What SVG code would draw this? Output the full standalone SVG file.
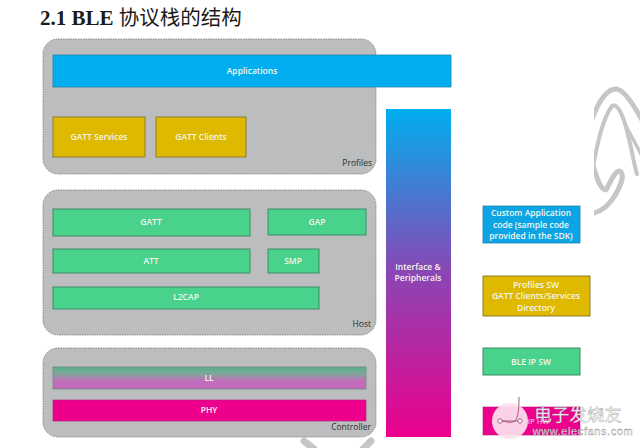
<svg xmlns="http://www.w3.org/2000/svg" width="640" height="448" viewBox="0 0 640 448">
<style>
text{font-family:"Open Sans","Noto Sans",sans-serif;font-size:8.5px;font-weight:600;fill:#f4f6ee;text-anchor:middle}
.panel{fill:#bcbdbf;stroke:#77787a;stroke-width:.8;stroke-dasharray:1.5 1}
.blue{fill:#00aeef;stroke:#1b87ad;stroke-width:.8}
.gold{fill:#dfb800;stroke:#8d7f2e;stroke-width:1}
.green{fill:#48d28c;stroke:#3f8a69;stroke-width:1}
.pink{fill:#ec008c;stroke:#b5197a;stroke-width:.6}
.dark{fill:#2e2e2e;text-anchor:end;font-weight:400}
.wm{fill:none;stroke:#c6c6c6;stroke-linecap:round;stroke-linejoin:round}
</style>
<defs>
<linearGradient id="side" x1="0" y1="0" x2="0" y2="1"><stop offset="0" stop-color="#00aeef"/><stop offset=".5" stop-color="#8a46b4"/><stop offset="1" stop-color="#ec008c"/></linearGradient>
<linearGradient id="ll" x1="0" y1="0" x2="0" y2="1"><stop offset="0" stop-color="#58ae8c"/><stop offset=".3" stop-color="#7ea69a"/><stop offset=".65" stop-color="#c46cbc"/><stop offset="1" stop-color="#c46cbc"/></linearGradient>
<clipPath id="wmclip"><rect x="594" y="80" width="46" height="140"/></clipPath>
</defs>
<rect width="640" height="448" fill="#fff"/>
<g id="watermark">
<g clip-path="url(#wmclip)">
<path class="wm" stroke-width="5" d="M590 125C598 100 608 88 617 89C626 92 634 106 642 120"/>
<path class="wm" stroke-width="4" d="M592 172C598 140 603 118 612 106C618 102 624 118 628 135C632 150 634 165 637 174"/>
<path class="wm" stroke-width="3.5" d="M626 126L642 156"/>
<path class="wm" stroke-width="5" d="M590 214C600 213 610 205 617 192C622 182 624 176 621 172C617 168 612 178 606 190C600 190 596 176 592 162"/>
</g>
<path class="wm" stroke-width="7" d="M304 441L314 449M371 441L363 449"/>
</g>
<text x="40" y="25" style="font-family:'Liberation Serif','Noto Sans CJK SC',serif;font-size:21px;font-weight:700;fill:#1a1a1a;text-anchor:start">2.1 BLE <tspan style="font-family:'Noto Sans CJK SC',sans-serif;font-weight:400;font-size:20.5px">协议栈的结构</tspan></text>
<g id="profiles"><rect class="panel" x="43" y="39" width="333" height="135" rx="15"/><text class="dark" x="372" y="166">Profiles</text></g>
<g id="host"><rect class="panel" x="43" y="190" width="333" height="145" rx="15"/><text class="dark" x="371" y="327">Host</text></g>
<g id="controller"><rect class="panel" x="43" y="348" width="333" height="89" rx="15"/><text class="dark" x="371" y="430">Controller</text></g>
<g id="applications"><rect class="blue" x="53" y="55" width="398" height="32"/><text x="252" y="74">Applications</text></g>
<g id="gatt-services"><rect class="gold" x="53" y="117" width="92" height="40"/><text x="99" y="140">GATT Services</text></g>
<g id="gatt-clients"><rect class="gold" x="156" y="117" width="90" height="40"/><text x="201" y="140">GATT Clients</text></g>
<g id="gatt"><rect class="green" x="53" y="209" width="197" height="27"/><text x="151" y="225">GATT</text></g>
<g id="gap"><rect class="green" x="268" y="209" width="98" height="26"/><text x="317" y="225">GAP</text></g>
<g id="att"><rect class="green" x="53" y="249" width="197" height="24"/><text x="151" y="264">ATT</text></g>
<g id="smp"><rect class="green" x="268" y="249" width="51" height="24"/><text x="293" y="264">SMP</text></g>
<g id="l2cap"><rect class="green" x="53" y="287" width="266" height="22"/><text x="186" y="300">L2CAP</text></g>
<g id="ll"><rect x="53" y="367" width="313" height="22" fill="url(#ll)" stroke="#6f8a80" stroke-width=".8"/><text x="209" y="381">LL</text></g>
<g id="phy"><rect class="pink" x="53" y="400" width="313" height="21"/><text x="209" y="413">PHY</text></g>
<g id="interface"><rect x="386" y="109" width="65" height="328" fill="url(#side)"/><text x="418" y="270">Interface &amp;</text><text x="418" y="281">Peripherals</text></g>
<g id="legend-custom"><rect class="blue" x="483" y="206" width="97" height="37" style="fill:#0ca4e4"/><text x="531" y="216">Custom Application</text><text x="531" y="228">code (sample code</text><text x="531" y="239">provided in the SDK)</text></g>
<g id="legend-profiles"><rect class="gold" x="483" y="276" width="107" height="40"/><text x="536" y="288">Profiles SW</text><text x="536" y="299">GATT Clients/Services</text><text x="536" y="311">Directory</text></g>
<g id="legend-ble"><rect class="green" x="483" y="348" width="97" height="27"/><text x="531" y="365">BLE IP SW</text></g>
<g id="legend-hw"><rect class="pink" x="483" y="407" width="97" height="28"/><text x="531" y="424" style="font-size:7.5px;fill:#f6b6d8">BLE IP HW</text></g>
<g id="logo">
<circle cx="510" cy="421" r="18" fill="#fbe3ee" fill-opacity=".92"/>
<path d="M500 421C506 421 510 424 515 421C518 417 519 412 519 397M500 421L520 421" fill="none" stroke="#a8587f" stroke-width="1"/>
<circle cx="500" cy="421" r="2.2" fill="#fff" stroke="#a8587f"/><circle cx="520" cy="421" r="2.2" fill="#fff" stroke="#a8587f"/>
<text x="578" y="421" style="font-family:'Noto Sans CJK SC',sans-serif;font-size:17.5px;font-weight:400;fill:#fff;stroke:#9a9a9a;stroke-width:.4">电子发烧友</text>
<text x="583" y="435" style="font-family:'Liberation Sans',sans-serif;font-size:11px;font-weight:400;letter-spacing:.6px;fill:#fff;stroke:#8a8a8a;stroke-width:.35">www.elecfans.com</text>
</g>
</svg>
